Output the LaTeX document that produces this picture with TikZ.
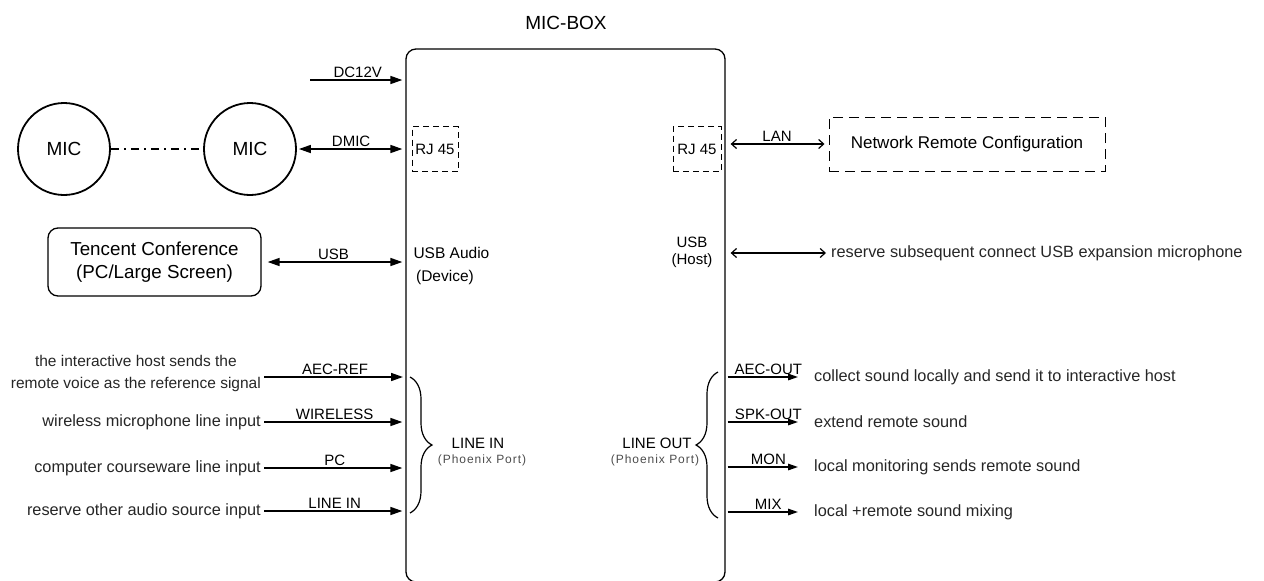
\documentclass[tikz,border=0pt]{standalone}
\usepackage{fontspec}
\setmainfont{Liberation Sans}
\usetikzlibrary{arrows.meta,decorations.pathreplacing}

\begin{document}
\begin{tikzpicture}[x=1pt,y=-1pt,
  lbl/.style={font=\fontsize{15}{17}\selectfont, inner sep=1.5pt},
  desc/.style={font=\fontsize{16.3}{22}\selectfont, inner sep=3pt, text=black!85},
  sig/.style={line width=1.6pt, -{Triangle[length=12pt,width=8pt]}},
  sigb/.style={line width=1.6pt, {Triangle[length=12pt,width=8pt]}-{Triangle[length=12pt,width=8pt]}},
  outsig/.style={line width=1.5pt, -{Triangle[length=10pt,width=6.5pt]}},
  bidir/.style={line width=1.2pt, {Straight Barb[length=5pt,width=9pt]}-{Straight Barb[length=5pt,width=9pt]}},
  dashbox/.style={draw, dash pattern=on 6pt off 4pt, line width=1pt},
  mic/.style={draw, circle, line width=1.8pt, minimum size=92pt, font=\fontsize{19}{22}\selectfont},
  port/.style={font=\fontsize{12}{14}\selectfont\addfontfeatures{LetterSpace=8}, text=black!70},
  bracestyle/.style={line width=1.2pt, decorate, decoration={brace, amplitude=22pt}}]
\useasboundingbox (0,0) rectangle (1264,581);

% the box
\node[draw, line width=1.3pt, rounded corners=10pt, minimum width=319pt, minimum height=533pt, inner sep=0pt] (micbox) at (565.5,315.5) {};
\node[font=\fontsize{19}{22}\selectfont] (title) at (566,23) {MIC-BOX};

% power
\coordinate (dcsrc) at (310,80);
\draw[sig, shorten >=3pt] (dcsrc) -- (micbox.west |- dcsrc) node[lbl, midway, above] {DC12V};

% mics and network
\node[mic] (mic1) at (64,149) {MIC};
\node[mic] (mic2) at (250,149) {MIC};
\draw[line width=1.2pt, dash pattern=on 8pt off 5pt on 2pt off 5pt] (mic1) -- (mic2);
\node[dashbox, lbl, minimum width=46pt, minimum height=45pt] (rjl) at (435,149) {RJ 45};
\draw[sigb, shorten <=2pt, shorten >=3pt] (mic2) -- (micbox.west |- rjl) node[lbl, midway, above] {DMIC};
\node[dashbox, lbl, minimum width=48pt, minimum height=45pt] (rjr) at (697,149) {RJ 45};
\node[draw, dash pattern=on 10pt off 6pt, line width=1pt, minimum width=276pt, minimum height=54pt, font=\fontsize{17}{20}\selectfont] (netcfg) at (967,144) {Network Remote Configuration};
\draw[bidir, shorten <=5pt, shorten >=4pt] (micbox.east |- netcfg) -- (netcfg.west) node[lbl, midway, above] {LAN};

% usb
\node[draw, line width=1.3pt, rounded corners=10pt, minimum width=213pt, minimum height=68pt, align=center, font=\fontsize{18.8}{23}\selectfont] (tencent) at (154.5,262) {Tencent Conference\\(PC/Large Screen)};
\draw[sigb, shorten <=6pt, shorten >=3pt] (tencent) -- (micbox.west |- tencent) node[lbl, midway, above] {USB};
\node[align=left, anchor=west, font=\fontsize{15.5}{23}\selectfont] (usbdev) at (410,266) {USB Audio\\\,(Device)};
\node[align=center, font=\fontsize{15}{17}\selectfont] (usbhost) at (692,252) {USB\\(Host)};
\node[desc, anchor=west] (usbexp) at (828,253) {reserve subsequent connect USB expansion microphone};
\draw[bidir, shorten <=5pt, shorten >=2pt] (micbox.east |- usbexp) -- (usbexp.west);

% line in
\node[desc, anchor=east, align=center, font=\fontsize{15.5}{22}\selectfont] (refdesc) at (264,373) {the interactive host sends the\\remote voice as the reference signal};
\node[desc, anchor=east] (wlsdesc) at (264,422) {wireless microphone line input};
\node[desc, anchor=east] (pcdesc) at (264,468) {computer courseware line input};
\node[desc, anchor=east] (lindesc) at (264,511) {reserve other audio source input};
\coordinate (refin) at (406,377);
\draw[sig, shorten >=3pt] (refdesc.east |- refin) -- (refin) node[lbl, midway, above] {AEC-REF};
\draw[sig, shorten >=3pt] (wlsdesc) -- (micbox.west |- wlsdesc) node[lbl, midway, above] {WIRELESS};
\draw[sig, shorten >=3pt] (pcdesc) -- (micbox.west |- pcdesc) node[lbl, midway, above] {PC};
\draw[sig, shorten >=3pt] (lindesc) -- (micbox.west |- lindesc) node[lbl, midway, above] {LINE IN};
\draw[bracestyle] (410,377) -- (410,513);
\node[font=\fontsize{15}{18}\selectfont] (lineinlbl) at (478,443) {LINE IN};
\node[port] (lineinport) at (482,460) {(Phoenix Port)};

% line out
\draw[bracestyle] (718,518) -- (718,372);
\node[font=\fontsize{15}{18}\selectfont] (lineoutlbl) at (657,443) {LINE OUT};
\node[port] (lineoutport) at (655,460) {(Phoenix Port)};
\node[desc, anchor=west] (aecdesc) at (811,377) {collect sound locally and send it to interactive host};
\node[desc, anchor=west] (spkdesc) at (811,422) {extend remote sound};
\node[desc, anchor=west] (mondesc) at (811,467) {local monitoring sends remote sound};
\node[desc, anchor=west] (mixdesc) at (811,512) {local +remote sound mixing};
\draw[outsig, shorten <=2pt, shorten >=13pt] (micbox.east |- aecdesc) -- (aecdesc.west) node[lbl, midway, above] {AEC-OUT};
\draw[outsig, shorten <=2pt, shorten >=13pt] (micbox.east |- spkdesc) -- (spkdesc.west) node[lbl, midway, above] {SPK-OUT};
\draw[outsig, shorten <=2pt, shorten >=13pt] (micbox.east |- mondesc) -- (mondesc.west) node[lbl, midway, above] {MON};
\draw[outsig, shorten <=2pt, shorten >=13pt] (micbox.east |- mixdesc) -- (mixdesc.west) node[lbl, midway, above] {MIX};
\end{tikzpicture}
\end{document}
